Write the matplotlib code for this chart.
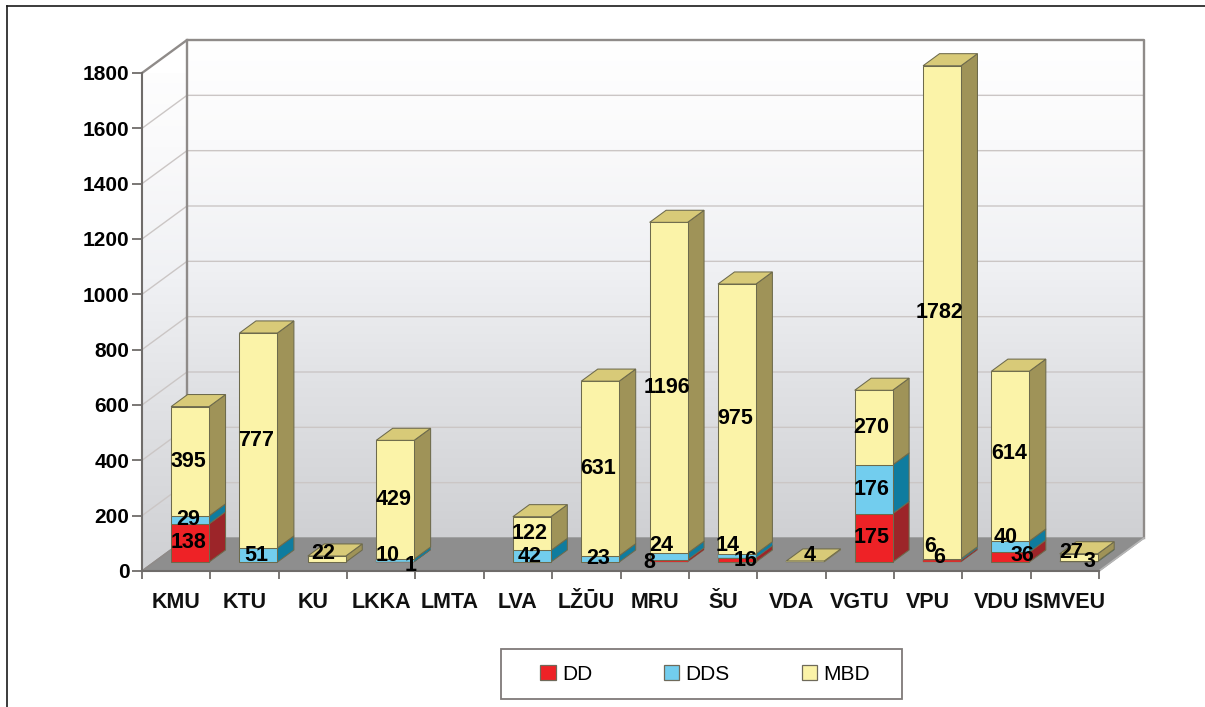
import matplotlib
matplotlib.use("Agg")
import matplotlib.pyplot as plt
from matplotlib.lines import Line2D
from matplotlib.patches import Patch, Polygon, Rectangle
import numpy as np

plt.rcParams['font.family'] = ['Liberation Sans', 'DejaVu Sans']

categories = ["KMU", "KTU", "KU", "LKKA", "LMTA", "LVA", "LŽŪU", "MRU", "ŠU",
              "VDA", "VGTU", "VPU", "VDU", "ISMVEU"]
dd = [138, 0, 0, 1, 0, 0, 0, 8, 16, 0, 175, 6, 36, 0]
dds = [29, 51, 0, 10, 0, 42, 23, 24, 14, 0, 176, 6, 40, 3]
mbd = [395, 777, 22, 429, 0, 122, 631, 1196, 975, 4, 270, 1782, 614, 27]
y_ticks = [0, 200, 400, 600, 800, 1000, 1200, 1400, 1600, 1800]

W, H = 1205, 707
Y_MAX = 1800
n = len(categories)

# px of the front plane, the fake 3d is a shear of that plane
left, right, bottom, top = 142, 1099, 571, 73
DX = 45 / ((right - left) / n)
DY = 33 / ((bottom - top) / Y_MAX)
D0, D1 = 0.27, 0.636
BAR_OFF, BAR_W = 0.2485, 0.555

series = [
    ("DD", dd, "#ee2226", "#9c2529"),
    ("DDS", dds, "#72cdee", "#0f7c9f"),
    ("MBD", mbd, "#fbf3a8", "#9f9358"),
]
TOP_FACE = "#d8ca78"
EDGE = "#6d6a4c"
GRID = "#cbc6c5"
WALL = "#8f8b89"

# label nudges in px, (category, series) -> dx, dy
nudges = {
    (2, 2): (-4, 6), (3, 0): (15, -4), (3, 1): (-8, 5), (7, 0): (-19, -2),
    (7, 1): (-7, 11), (8, 0): (9, -1), (8, 1): (-9, 10), (9, 2): (4, 6),
    (11, 0): (-3, 4), (11, 1): (-12, 13), (12, 0): (12, 2), (12, 1): (-5, 9),
    (12, 2): (-1, 3), (13, 1): (11, 0), (13, 2): (-7, 5),
}


def proj(x, v, d):
    return (x + d * DX, v + d * DY)


fig = plt.figure(figsize=(W / 100, H / 100), dpi=100)
ax = fig.add_axes([left / W, 1 - bottom / H, (right - left) / W, (bottom - top) / H])
ax.patch.set_visible(False)

# walls
stops = np.array([0, 0.3, 0.55, 0.8, 1.0])
shade = np.array([[207, 208, 211], [224, 225, 228], [240, 241, 244], [250, 250, 251], [255, 255, 255]])
t = np.linspace(0, 1, 200)
grad = np.stack([np.interp(t, stops, shade[:, i]) for i in range(3)], axis=1)[:, None, :] / 255

back = ax.imshow(grad, origin="lower", aspect="auto", zorder=0,
                 extent=(DX, n + DX, DY, Y_MAX + DY))
back.set_clip_on(False)
side_pts = [proj(0, 0, 0), proj(0, 0, 1), proj(0, Y_MAX, 1), proj(0, Y_MAX, 0)]
side = ax.imshow(grad, origin="lower", aspect="auto", zorder=0,
                 extent=(0, DX, 0, Y_MAX + DY))
side_clip = Polygon(side_pts, closed=True, transform=ax.transData, fill=False, edgecolor="none")
ax.add_patch(side_clip)
side.set_clip_path(side_clip)
ax.set_xlim(0, n)
ax.set_ylim(0, Y_MAX)

# floor
floor = [proj(0, 0, 0), proj(n, 0, 0), proj(n, 0, 1), proj(0, 0, 1)]
ax.add_patch(Polygon(floor, closed=True, facecolor="#8e8e8e", edgecolor="#8e8e8e",
                     zorder=1, clip_on=False))

# gridlines
for v in y_ticks[1:-1]:
    a, b, c = proj(0, v, 0), proj(0, v, 1), proj(n, v, 1)
    ax.plot([a[0], b[0], c[0]], [a[1], b[1], c[1]], color=GRID, lw=1, zorder=1, clip_on=False)

# wall outline
a, b, c, d = proj(0, Y_MAX, 0), proj(0, Y_MAX, 1), proj(n, Y_MAX, 1), proj(n, 0, 1)
ax.plot([a[0], b[0], c[0], d[0]], [a[1], b[1], c[1], d[1]], color=WALL, lw=1.7, zorder=2, clip_on=False)
e = proj(0, 0, 1)
ax.plot([b[0], e[0]], [b[1], e[1]], color=WALL, lw=1.7, zorder=2, clip_on=False)
ax.plot([e[0], 0], [e[1], 0], color=WALL, lw=1.2, zorder=2, clip_on=False)
ax.plot([n, d[0]], [0, d[1]], color="#b5b5b5", lw=1.2, zorder=2, clip_on=False)

# bars
for i in range(n):
    x0 = i + BAR_OFF
    x1 = x0 + BAR_W
    base = 0
    last = max((j for j, s in enumerate(series) if s[1][i] > 0), default=None)
    for j, (name, vals, col, col_side) in enumerate(series):
        val = vals[i]
        if val == 0:
            continue
        tip = base + val
        # thin slabs would turn into pure edge colour
        lw = 0.75 if val > 15 else 0.25
        ax.add_patch(Polygon([proj(x1, base, D0), proj(x1, tip, D0), proj(x1, tip, D1), proj(x1, base, D1)],
                             closed=True, facecolor=col_side, edgecolor=EDGE, lw=lw, zorder=3, clip_on=False))
        ax.add_patch(Polygon([proj(x0, base, D0), proj(x1, base, D0), proj(x1, tip, D0), proj(x0, tip, D0)],
                             closed=True, facecolor=col, edgecolor=EDGE, lw=lw, zorder=3, clip_on=False))
        if j == last:
            ax.add_patch(Polygon([proj(x0, tip, D0), proj(x1, tip, D0), proj(x1, tip, D1), proj(x0, tip, D1)],
                                 closed=True, facecolor=TOP_FACE, edgecolor=EDGE, lw=0.75, zorder=3, clip_on=False))
        base = tip

# value labels
for i in range(n):
    base = 0
    for j, (name, vals, col, col_side) in enumerate(series):
        val = vals[i]
        if val == 0:
            continue
        cx, cy = proj(i + BAR_OFF + BAR_W / 2, base + val / 2, D0)
        off = nudges.get((i, j), (-2, 0))
        ax.annotate(str(val), (cx, cy), xytext=(off[0] * 0.72, off[1] * 0.72), textcoords="offset points",
                    ha="center", va="center", fontsize=15.5, fontweight="bold", color="black",
                    zorder=6, annotation_clip=False)
        base += val

# axes
for s in ["top", "right"]:
    ax.spines[s].set_visible(False)
ax.spines["left"].set_color("#6f6c6a")
ax.spines["left"].set_linewidth(1.5)
ax.spines["bottom"].set_color("#6f6c6a")
ax.spines["bottom"].set_linewidth(1.5)
ax.spines["left"].set_zorder(2)
ax.spines["bottom"].set_zorder(2)
ax.set_yticks(y_ticks)
ax.set_yticklabels([str(v) for v in y_ticks], fontsize=15, fontweight="bold", color="black")
ax.tick_params(axis="y", length=7, width=1.3, color="#6f6c6a", pad=2)
ax.set_xticks(np.arange(n + 1))
ax.set_xticklabels([])
ax.tick_params(axis="x", which="major", length=6, width=1.3, color="#6f6c6a")
ax.set_xticks(np.arange(n) + 0.5, minor=True)
ax.set_xticklabels(categories, minor=True, fontsize=15.5, fontweight="bold", color="#111111")
ax.tick_params(axis="x", which="minor", length=0, pad=15)

# legend
fig.add_artist(Rectangle((501 / W, 1 - 699 / H), 401 / W, 50 / H, transform=fig.transFigure,
                         facecolor="white", edgecolor="#7f7a78", lw=1.3))
handles = [Patch(facecolor=s[2], edgecolor="#6f6a5a", lw=0.9, label=s[0]) for s in series]
leg = fig.legend(handles=handles, ncol=3, mode="expand", frameon=False, fontsize=15, loc="center",
                 bbox_to_anchor=(540 / W, 1 - 699 / H, 330 / W, 50 / H), bbox_transform=fig.transFigure,
                 borderaxespad=0, borderpad=0, handlelength=0.75, handleheight=0.75, handletextpad=0.3)
leg.set_zorder(5)

# page rule top and left
fig.add_artist(Line2D([7 / W, 1], [1 - 6 / H, 1 - 6 / H], color="#1a1a1a", lw=1.2, transform=fig.transFigure))
fig.add_artist(Line2D([7 / W, 7 / W], [0, 1 - 6 / H], color="#1a1a1a", lw=1.2, transform=fig.transFigure))

fig.savefig("out.png", dpi=100)
